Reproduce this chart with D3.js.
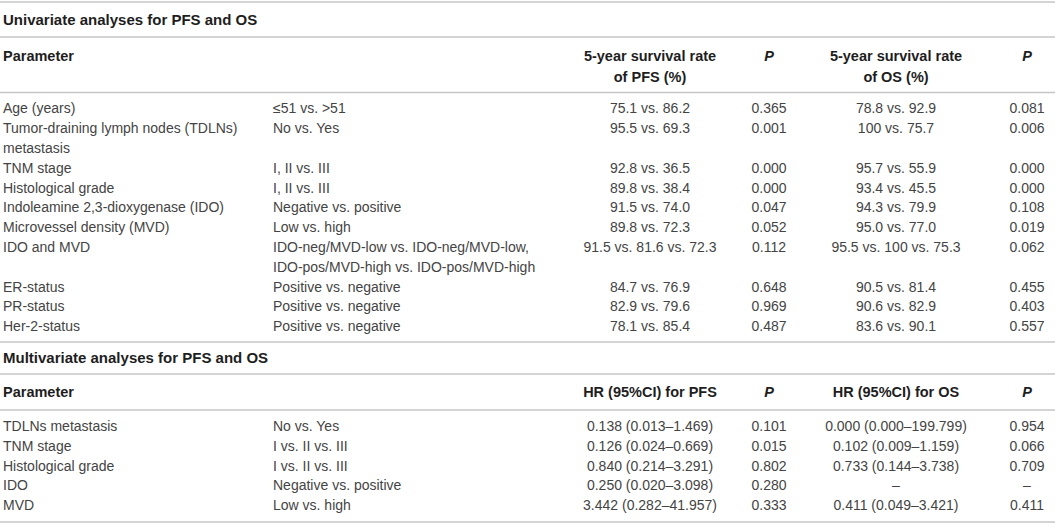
<!DOCTYPE html>
<html>
<head>
<meta charset="utf-8">
<script src="https://cdn.jsdelivr.net/npm/d3@7"></script>
<style>
  body { margin: 0; background: #fff; }
  svg { display: block; }
  .cell { font-family: "Liberation Sans", Arial, sans-serif; font-size: 14px; fill: #444; }
  .head { font-family: "Liberation Sans", Arial, sans-serif; font-size: 14.5px; font-weight: bold; fill: #1e1e1e; }
  .title { font-size: 15px; }
  .rule { stroke: #c6c6c6; stroke-width: 1.6; }
</style>
</head>
<body>
<svg id="chart"></svg>
<script>
// univariate table
const uniTitle = "Univariate analyses for PFS and OS";
const uniHeads = ["Parameter", "", "5-year survival rate of PFS (%)", "P", "5-year survival rate of OS (%)", "P"];
const uniParams = ["Age (years)", "Tumor-draining lymph nodes (TDLNs) metastasis", "TNM stage",
  "Histological grade", "Indoleamine 2,3-dioxygenase (IDO)", "Microvessel density (MVD)",
  "IDO and MVD", "ER-status", "PR-status", "Her-2-status"];
const uniGroups = ["≤51 vs. >51", "No vs. Yes", "I, II vs. III", "I, II vs. III", "Negative vs. positive",
  "Low vs. high", "IDO-neg/MVD-low vs. IDO-neg/MVD-low, IDO-pos/MVD-high vs. IDO-pos/MVD-high",
  "Positive vs. negative", "Positive vs. negative", "Positive vs. negative"];
const pfsRate = ["75.1 vs. 86.2", "95.5 vs. 69.3", "92.8 vs. 36.5", "89.8 vs. 38.4", "91.5 vs. 74.0",
  "89.8 vs. 72.3", "91.5 vs. 81.6 vs. 72.3", "84.7 vs. 76.9", "82.9 vs. 79.6", "78.1 vs. 85.4"];
const pfsP = ["0.365", "0.001", "0.000", "0.000", "0.047", "0.052", "0.112", "0.648", "0.969", "0.487"];
const osRate = ["78.8 vs. 92.9", "100 vs. 75.7", "95.7 vs. 55.9", "93.4 vs. 45.5", "94.3 vs. 79.9",
  "95.0 vs. 77.0", "95.5 vs. 100 vs. 75.3", "90.5 vs. 81.4", "90.6 vs. 82.9", "83.6 vs. 90.1"];
const osP = ["0.081", "0.006", "0.000", "0.000", "0.108", "0.019", "0.062", "0.455", "0.403", "0.557"];

// multivariate table
const multiTitle = "Multivariate analyses for PFS and OS";
const multiHeads = ["Parameter", "", "HR (95%CI) for PFS", "P", "HR (95%CI) for OS", "P"];
const multiParams = ["TDLNs metastasis", "TNM stage", "Histological grade", "IDO", "MVD"];
const multiGroups = ["No vs. Yes", "I vs. II vs. III", "I vs. II vs. III", "Negative vs. positive", "Low vs. high"];
const hrPfs = ["0.138 (0.013–1.469)", "0.126 (0.024–0.669)", "0.840 (0.214–3.291)", "0.250 (0.020–3.098)", "3.442 (0.282–41.957)"];
const hrPfsP = ["0.101", "0.015", "0.802", "0.280", "0.333"];
const hrOs = ["0.000 (0.000–199.799)", "0.102 (0.009–1.159)", "0.733 (0.144–3.738)", "–", "0.411 (0.049–3.421)"];
const hrOsP = ["0.954", "0.066", "0.709", "–", "0.411"];

const width = 1055, height = 524;
const svg = d3.select("#chart").attr("width", width).attr("height", height);

const cols = [0, 1, 2, 3, 4, 5];
const colX = d3.scaleOrdinal().domain(cols).range([3, 273, 650, 769, 896, 1027]);
const colAnchor = d3.scaleOrdinal().domain(cols).range(["start", "start", "middle", "middle", "middle", "middle"]);
const colWrap = d3.scaleOrdinal().domain(cols).range([262, 270, 180, 60, 180, 60]);
const headWrap = d3.scaleOrdinal().domain(cols).range([262, 270, 140, 60, 140, 60]);

function rule(y) {
  svg.append("line").attr("class", "rule")
    .attr("x1", 0).attr("x2", width).attr("y1", y).attr("y2", y);
}

// put text into a cell, wrapping on words; returns the number of lines
function cell(cls, col, y, lineH, str, maxW) {
  const t = svg.append("text").attr("class", cls)
    .attr("x", colX(col)).attr("y", y)
    .attr("text-anchor", colAnchor(col));
  const words = str.split(" ");
  let line = [], n = 0;
  let ts = t.append("tspan").attr("x", colX(col)).attr("y", y).attr("dy", "0.35em");
  for (const w of words) {
    line.push(w);
    ts.text(line.join(" "));
    if (ts.node().getComputedTextLength() > maxW && line.length > 1) {
      line.pop();
      ts.text(line.join(" "));
      line = [w];
      n++;
      ts = t.append("tspan").attr("x", colX(col)).attr("y", y + n * lineH).attr("dy", "0.35em").text(w);
    }
  }
  if (cls === "head" && (col === 3 || col === 5)) t.style("font-style", "italic");
  return n + 1;
}

function section(s) {
  rule(s.top);
  svg.append("text").attr("class", "head title")
    .attr("x", colX(0)).attr("y", s.titleY).attr("dy", "0.35em").text(s.title);
  rule(s.titleRule);
  cols.forEach(c => { if (s.heads[c]) cell("head", c, s.headY, 21, s.heads[c], headWrap(c)); });
  rule(s.headRule);

  const lineY = d3.scaleLinear().domain([0, 1]).range([s.bodyY, s.bodyY + 19.8]);
  let k = 0;
  s.rows.forEach(r => {
    let span = 1;
    r.forEach((v, c) => { span = Math.max(span, cell("cell", c, lineY(k), 19.8, v, colWrap(c))); });
    k += span;
  });
}

section({
  top: 2, title: uniTitle, titleY: 20, titleRule: 37, heads: uniHeads, headY: 56, headRule: 92.5, bodyY: 108.5,
  rows: uniParams.map((p, i) => [p, uniGroups[i], pfsRate[i], pfsP[i], osRate[i], osP[i]])
});
section({
  top: 342, title: multiTitle, titleY: 358, titleRule: 374, heads: multiHeads, headY: 392, headRule: 410, bodyY: 426,
  rows: multiParams.map((p, i) => [p, multiGroups[i], hrPfs[i], hrPfsP[i], hrOs[i], hrOsP[i]])
});
rule(522);
</script>
</body>
</html>
